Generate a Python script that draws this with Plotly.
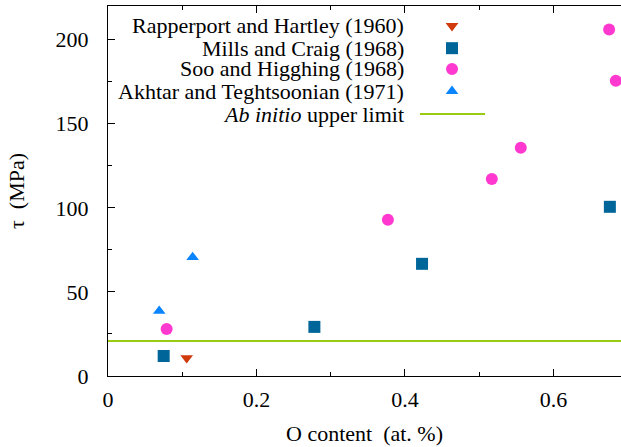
import plotly.graph_objects as go

# ---- data ----
rapp_x = [0.106]
rapp_y = [10.7]

mills_x = [0.075, 0.278, 0.423, 0.676]
mills_y = [11.9, 29.2, 66.7, 100.6]

soo_x = [0.079, 0.377, 0.517, 0.556, 0.675, 0.684]
soo_y = [28.0, 92.9, 117.1, 135.7, 206.0, 175.6]

akh_x = [0.069, 0.114]
akh_y = [38.7, 70.6]

ab_initio_limit = 20.8

series_names = [
    "Rapperport and Hartley (1960)",
    "Mills and Craig (1968)",
    "Soo and Higghing (1968)",
    "Akhtar and Teghtsoonian (1971)",
    "<i>Ab initio</i> upper limit",
]

x_ticks = [0, 0.2, 0.4, 0.6]
x_tick_labels = ["0", "0.2", "0.4", "0.6"]
y_ticks = [0, 50, 100, 150, 200]
y_tick_labels = ["0", "50", "100", "150", "200"]

# ---- styles ----
C_RED = "#d03a0c"
C_BLUE = "#006699"
C_PINK = "#ff38d0"
C_LBLUE = "#0a84ff"
C_GREEN = "#99cc11"
FONT = "Liberation Serif"
FS = 22

X_MAX = 0.691
Y_MAX = 220

fig = go.Figure()

fig.add_trace(go.Scatter(
    x=[0, X_MAX], y=[ab_initio_limit, ab_initio_limit], mode="lines",
    line=dict(color=C_GREEN, width=2), name=series_names[4], cliponaxis=True))
fig.add_trace(go.Scatter(
    x=rapp_x, y=rapp_y, mode="markers", name=series_names[0],
    marker=dict(symbol="triangle-down", size=11, color=C_RED), cliponaxis=False))
fig.add_trace(go.Scatter(
    x=mills_x, y=mills_y, mode="markers", name=series_names[1],
    marker=dict(symbol="square", size=12, color=C_BLUE), cliponaxis=False))
fig.add_trace(go.Scatter(
    x=soo_x, y=soo_y, mode="markers", name=series_names[2],
    marker=dict(symbol="circle", size=12, color=C_PINK), cliponaxis=False))
fig.add_trace(go.Scatter(
    x=akh_x, y=akh_y, mode="markers", name=series_names[3],
    marker=dict(symbol="triangle-up", size=11, color=C_LBLUE), cliponaxis=False))

# ---- custom gnuplot-style legend (text right-aligned, key on the right) ----
leg_text_x = 0.581
leg_key_x = 0.6706
leg_rows_y = [0.946, 0.886, 0.830, 0.770, 0.708]
annotations = []
for name, yy in zip(series_names, leg_rows_y):
    annotations.append(dict(
        xref="paper", yref="paper", x=leg_text_x, y=yy, text=name,
        xanchor="right", yanchor="middle", showarrow=False,
        font=dict(family=FONT, size=FS, color="black")))

shapes = []
def key_shape(kind, yy, color):
    base = dict(xref="paper", yref="paper", xsizemode="pixel", ysizemode="pixel",
                xanchor=leg_key_x, yanchor=yy, line=dict(width=0), fillcolor=color)
    if kind == "square":
        base.update(type="rect", x0=-6, x1=6, y0=-6, y1=6)
    elif kind == "circle":
        base.update(type="circle", x0=-6, x1=6, y0=-6, y1=6)
    elif kind == "tri-down":
        base.update(type="path", path="M-6.4,3 L6.4,3 L0,-5.5 Z")
    elif kind == "tri-up":
        base.update(type="path", path="M-6.4,-3 L6.4,-3 L0,5.5 Z")
    return base

shapes.append(key_shape("tri-down", leg_rows_y[0], C_RED))
shapes.append(key_shape("square", leg_rows_y[1], C_BLUE))
shapes.append(key_shape("circle", leg_rows_y[2], C_PINK))
shapes.append(key_shape("tri-up", leg_rows_y[3], C_LBLUE))
shapes.append(dict(type="line", xref="paper", yref="paper",
                   x0=0.608, x1=0.735, y0=leg_rows_y[4], y1=leg_rows_y[4],
                   line=dict(color=C_GREEN, width=2)))

fig.update_layout(
    width=621, height=447,
    margin=dict(l=108, r=0, t=6, b=71, autoexpand=False),
    paper_bgcolor="white", plot_bgcolor="white",
    showlegend=False,
    font=dict(family=FONT, size=FS, color="black"),
    annotations=annotations,
    shapes=shapes,
)

fig.update_xaxes(
    range=[0, X_MAX], tickvals=x_ticks, ticktext=x_tick_labels,
    ticks="inside", ticklen=7, tickcolor="black", tickwidth=1,
    minor=dict(dtick=0.1, ticks="inside", ticklen=4, tickcolor="black", showgrid=False),
    showline=True, linecolor="black", linewidth=1, mirror="ticks",
    showgrid=False, zeroline=False, ticklabelstandoff=4, automargin=False,
    tickfont=dict(family=FONT, size=FS),
    title=dict(text="O content\u00a0 (at. %)", standoff=14,
               font=dict(family=FONT, size=FS)),
)
fig.update_yaxes(
    range=[0, Y_MAX], tickvals=y_ticks, ticktext=y_tick_labels,
    ticks="inside", ticklen=7, tickcolor="black", tickwidth=1,
    minor=dict(dtick=25, ticks="inside", ticklen=4, tickcolor="black", showgrid=False),
    showline=True, linecolor="black", linewidth=1, mirror=False,
    showgrid=False, zeroline=False, ticklabelstandoff=14, automargin=False,
    tickfont=dict(family=FONT, size=FS),
    title=dict(text="\u03c4\u00a0 (MPa)", standoff=24,
               font=dict(family=FONT, size=FS)),
)

fig.write_html("out.html", config={"displayModeBar": False},
               post_script="document.body.style.margin='0';document.body.style.padding='0';")
